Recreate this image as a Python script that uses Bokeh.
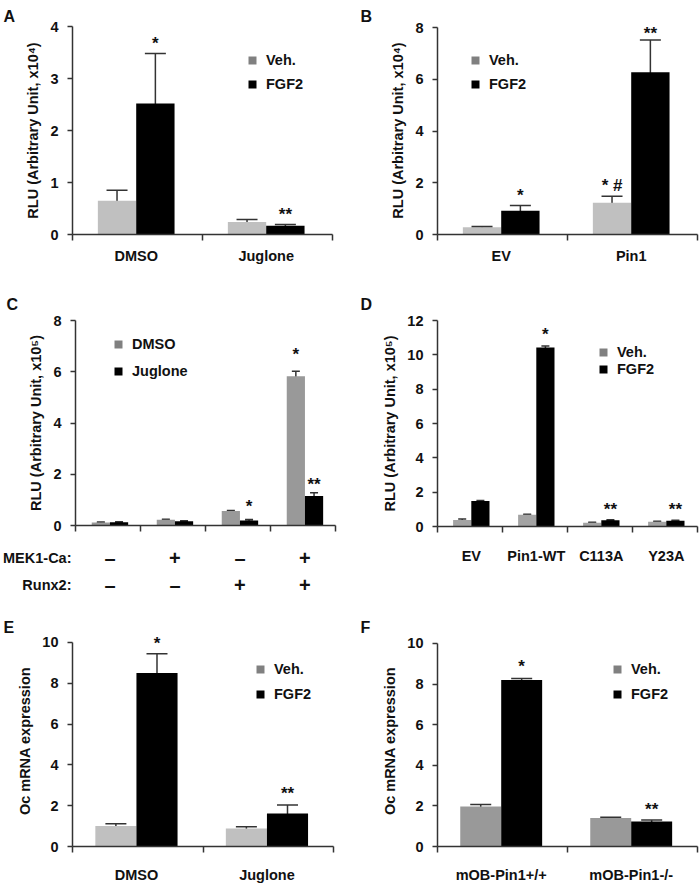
from bokeh.plotting import figure
from bokeh.models import (Range1d, FixedTicker, ColumnDataSource, Whisker, TeeHead,
                          Label, Legend, LegendItem)
from bokeh.layouts import column, row
from bokeh.embed import file_html
from bokeh.resources import INLINE
from bokeh.core.properties import value

FONT = "Liberation Sans"
AX = "#333333"
TXT = "#111111"

# ---------------- data ----------------
# Panel A
a_cats = ["DMSO", "Juglone"]
a_veh = [0.65, 0.24]
a_veh_err = [0.20, 0.05]
a_fgf = [2.52, 0.17]
a_fgf_err = [0.96, 0.02]
a_yticks = [0, 1, 2, 3, 4]
a_star_cat = [0, 1]
a_star_ser = [1, 1]
a_star_y = [3.69, 0.40]
a_star_txt = ["*", "**"]

# Panel B
b_cats = ["EV", "Pin1"]
b_veh = [0.28, 1.23]
b_veh_err = [0.03, 0.25]
b_fgf = [0.92, 6.27]
b_fgf_err = [0.20, 1.25]
b_yticks = [0, 2, 4, 6, 8]
b_star_cat = [0, 1, 1]
b_star_ser = [1, 0, 1]
b_star_y = [1.54, 1.92, 7.80]
b_star_txt = ["*", "* #", "**"]

# Panel C
c_row_names = ["MEK1-Ca:", "Runx2:"]
c_mek = ["–", "+", "–", "+"]
c_runx = ["–", "–", "+", "+"]
c_dmso = [0.12, 0.22, 0.57, 5.82]
c_dmso_err = [0.02, 0.02, 0.02, 0.20]
c_jug = [0.13, 0.17, 0.20, 1.15]
c_jug_err = [0.02, 0.02, 0.03, 0.13]
c_yticks = [0, 2, 4, 6, 8]
c_star_cat = [2, 3, 3]
c_star_ser = [1, 0, 1]
c_star_y = [0.78, 6.72, 1.63]
c_star_txt = ["*", "*", "**"]

# Panel D
d_cats = ["EV", "Pin1-WT", "C113A", "Y23A"]
d_veh = [0.38, 0.68, 0.22, 0.28]
d_veh_err = [0.05, 0.03, 0.03, 0.03]
d_fgf = [1.48, 10.42, 0.37, 0.33]
d_fgf_err = [0.04, 0.10, 0.03, 0.03]
d_yticks = [0, 2, 4, 6, 8, 10, 12]
d_star_cat = [1, 2, 3]
d_star_ser = [1, 1, 1]
d_star_y = [11.24, 1.05, 1.05]
d_star_txt = ["*", "**", "**"]

# Panel E
e_cats = ["DMSO", "Juglone"]
e_veh = [1.00, 0.88]
e_veh_err = [0.12, 0.09]
e_fgf = [8.50, 1.62]
e_fgf_err = [0.95, 0.42]
e_yticks = [0, 2, 4, 6, 8, 10]
e_star_cat = [0, 1]
e_star_ser = [1, 1]
e_star_y = [10.0, 2.67]
e_star_txt = ["*", "**"]

# Panel F
f_cats = ["mOB-Pin1+/+", "mOB-Pin1-/-"]
f_veh = [1.97, 1.40]
f_veh_err = [0.10, 0.04]
f_fgf = [8.20, 1.23]
f_fgf_err = [0.07, 0.08]
f_yticks = [0, 2, 4, 6, 8, 10]
f_star_cat = [0, 1]
f_star_ser = [1, 1]
f_star_y = [8.93, 1.85]
f_star_txt = ["*", "**"]


def style_axis(ax):
    ax.axis_line_color = AX
    ax.axis_line_width = 1.5
    ax.major_tick_line_color = AX
    ax.major_tick_line_width = 1.5
    ax.major_label_text_font = FONT
    ax.major_label_text_font_style = "bold"
    ax.major_label_text_font_size = "14.5px"
    ax.major_label_text_color = TXT
    ax.axis_label_text_font = FONT
    ax.axis_label_text_font_style = "bold"
    ax.axis_label_text_font_size = "14.5px"
    ax.axis_label_text_color = TXT


def panel(letter, cats, s1, s1e, s2, s2e, names, yticks, ylabel, c1,
          geom, pc, bw, cap, lab_standoff, leg_loc, leg_spacing, stars,
          hide_xlabels=False):
    col_x0, fig_top, fig_h, fl, fr, tt, fb, pad, letter_left, t_standoff = geom
    n = len(cats)
    top = yticks[-1]
    ppu = (fb - tt) / (top - yticks[0])
    y_hi = top + pad / ppu
    p = figure(width=350, height=fig_h, output_backend="svg", toolbar_location=None,
               x_range=Range1d(0, n), y_range=Range1d(yticks[0], y_hi),
               min_border_left=fl - col_x0, min_border_right=col_x0 + 350 - fr,
               min_border_top=tt - pad - fig_top, min_border_bottom=fig_top + fig_h - fb)
    p.outline_line_color = None
    p.grid.visible = False
    p.background_fill_color = "white"
    p.border_fill_color = "white"

    p.title.text = letter
    p.title.align = "left"
    p.title.offset = letter_left - fl
    p.title.standoff = t_standoff
    p.title.text_font = FONT
    p.title.text_font_style = "bold"
    p.title.text_font_size = "16px"
    p.title.text_color = TXT

    xs1 = [i + pc - bw / 2 for i in range(n)]
    xs2 = [i + pc + bw / 2 for i in range(n)]
    p.vbar(x=xs1, top=s1, width=bw, bottom=0, fill_color=c1, line_color=None)
    p.vbar(x=xs2, top=s2, width=bw, bottom=0, fill_color="#000000", line_color=None)

    for xs, v, e in ((xs1, s1, s1e), (xs2, s2, s2e)):
        src = ColumnDataSource(dict(x=xs, lo=[a - b for a, b in zip(v, e)],
                                    hi=[a + b for a, b in zip(v, e)]))
        wk = Whisker(source=src, base="x", lower="lo", upper="hi",
                     line_color=AX, line_width=1.5,
                     upper_head=TeeHead(size=cap, line_color=AX, line_width=1.5),
                     lower_head=TeeHead(size=cap, line_color=AX, line_width=1.5))
        p.add_layout(wk)

    # axes
    xa = p.xaxis[0]
    xa.ticker = FixedTicker(ticks=[i + pc for i in range(n)],
                            minor_ticks=list(range(n + 1)))
    xa.major_label_overrides = {i + pc: c for i, c in enumerate(cats)}
    xa.major_tick_out = 0
    xa.major_tick_in = 0
    xa.minor_tick_out = 6
    xa.minor_tick_in = 0
    xa.minor_tick_line_color = AX
    xa.minor_tick_line_width = 1.5
    xa.major_label_standoff = lab_standoff
    ya = p.yaxis[0]
    ya.ticker = FixedTicker(ticks=yticks, minor_ticks=[])
    ya.bounds = (yticks[0], top)
    ya.major_tick_out = 5
    ya.major_tick_in = 0
    ya.major_label_standoff = 9
    ya.axis_label = ylabel
    ya.axis_label_standoff = 6
    style_axis(xa)
    style_axis(ya)
    if hide_xlabels:
        xa.major_label_text_font_size = "0px"
        xa.major_label_standoff = 0

    # legend (hidden twins of the bars carry the legend swatch colours)
    r1 = p.vbar(x=xs1, top=s1, width=bw, fill_color="#808080", line_color=None, visible=False)
    r2 = p.vbar(x=xs2, top=s2, width=bw, fill_color="#000000", line_color=None, visible=False)
    leg = Legend(items=[LegendItem(label=names[0], renderers=[r1]),
                        LegendItem(label=names[1], renderers=[r2])],
                 location=leg_loc, glyph_width=10, glyph_height=10,
                 label_standoff=9, spacing=leg_spacing, padding=0, margin=0,
                 label_height=15, border_line_color=None,
                 background_fill_alpha=0, inactive_fill_alpha=0,
                 label_text_font=FONT, label_text_font_style="bold",
                 label_text_font_size="14.5px", label_text_color=TXT)
    p.add_layout(leg)

    # significance marks
    sc, ss, sy, st = stars
    for c, s, y, t in zip(sc, ss, sy, st):
        x = xs1[c] if s == 0 else xs2[c]
        p.add_layout(Label(x=x, y=y, text=t, text_align="center",
                           text_baseline="middle", y_offset=-1,
                           text_font=FONT, text_font_style="bold",
                           text_font_size="17px", text_color=TXT))
    return p


# geometry: (column x0, figure top, figure height, frame left, frame right,
#            top-tick y, frame bottom, extra px above top tick, letter left,
#            title standoff)
pa = panel("A", a_cats, a_veh, a_veh_err, a_fgf, a_fgf_err, ["Veh.", "FGF2"],
           a_yticks, "RLU (Arbitrary Unit, x10⁴)", "#c0c0c0",
           (0, 0, 284, 72, 332, 26, 234, 0, 3, 3), 0.49, 0.295, 21, 7,
           (175, 142), 8, (a_star_cat, a_star_ser, a_star_y, a_star_txt))
pb = panel("B", b_cats, b_veh, b_veh_err, b_fgf, b_fgf_err, ["Veh.", "FGF2"],
           b_yticks, "RLU (Arbitrary Unit, x10⁴)", "#c0c0c0",
           (350, 0, 284, 437, 697, 27, 234, 1, 360, 3), 0.49, 0.295, 21, 7,
           (33, 142), 8, (b_star_cat, b_star_ser, b_star_y, b_star_txt))
pcm = panel("C", ["", "", "", ""], c_dmso, c_dmso_err, c_jug, c_jug_err, ["DMSO", "Juglone"],
            c_yticks, "RLU (Arbitrary Unit, x10⁵)", "#999999",
            (0, 284, 251, 72, 335, 320, 525, 0, 3, 16), 0.53, 0.28, 8, 0,
            (38, 146), 11, (c_star_cat, c_star_ser, c_star_y, c_star_txt),
            hide_xlabels=True)
pd = panel("D", d_cats, d_veh, d_veh_err, d_fgf, d_fgf_err, ["Veh.", "FGF2"],
           d_yticks, "RLU (Arbitrary Unit, x10⁵)", "#a3a3a3",
           (350, 284, 316, 437, 697, 320, 526, 0, 360, 16), 0.52, 0.28, 8, 15,
           (161, 149), 1, (d_star_cat, d_star_ser, d_star_y, d_star_txt))
pe = panel("E", e_cats, e_veh, e_veh_err, e_fgf, e_fgf_err, ["Veh.", "FGF2"],
           e_yticks, "Oc mRNA expression", "#c0c0c0",
           (0, 600, 285, 72, 333, 642, 847, 7, 3, 0), 0.49, 0.315, 21, 14,
           (183, 144), 9, (e_star_cat, e_star_ser, e_star_y, e_star_txt))
pf = panel("F", f_cats, f_veh, f_veh_err, f_fgf, f_fgf_err, ["Veh.", "FGF2"],
           f_yticks, "Oc mRNA expression", "#999999",
           (350, 600, 285, 437, 697, 643, 847, 8, 360, 0), 0.49, 0.315, 21, 14,
           (175, 144), 9, (f_star_cat, f_star_ser, f_star_y, f_star_txt))

# C: treatment table under the C axis (same x scale as the C bars)
ct = figure(width=350, height=65, output_backend="svg", toolbar_location=None,
            x_range=Range1d(0, 4), y_range=Range1d(-0.536, 1.786),
            x_axis_type=None,
            min_border_left=72, min_border_right=15, min_border_top=0, min_border_bottom=0)
ct.outline_line_color = None
ct.grid.visible = False
cy = ct.yaxis[0]
cy.ticker = FixedTicker(ticks=[1, 0], minor_ticks=[])
cy.major_label_overrides = {1: c_row_names[0], 0: c_row_names[1]}
style_axis(cy)
cy.axis_line_color = None
cy.major_tick_line_color = None
cy.major_tick_out = 0
cy.major_label_standoff = 4
sign_src = ColumnDataSource(dict(
    x=[i + 0.53 for i in range(4)] * 2,
    y=[1] * 4 + [0] * 4,
    t=c_mek + c_runx))
ct.text(x="x", y="y", text="t", source=sign_src, text_align="center",
        text_baseline="middle", text_font=value(FONT), text_font_style="bold",
        text_font_size="20px", text_color=TXT)

layout = column(row(pa, pb), row(column(pcm, ct), pd), row(pe, pf))
open("out.html", "w").write(file_html(layout, INLINE))
